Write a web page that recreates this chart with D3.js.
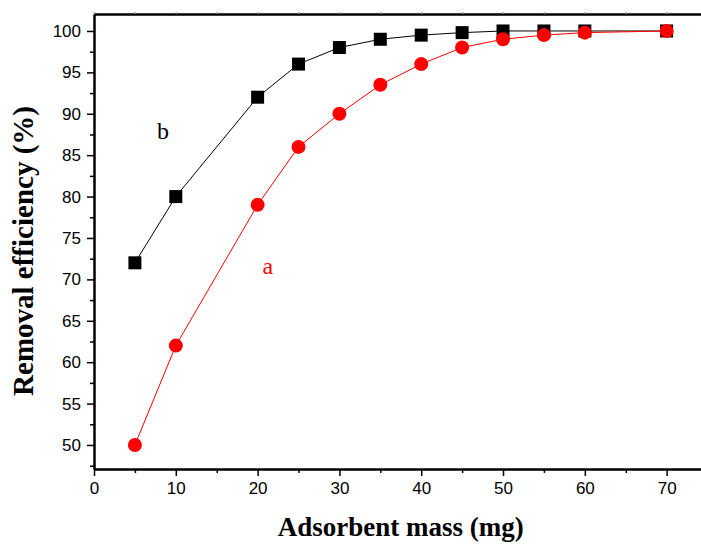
<!DOCTYPE html>
<meta charset="utf-8">
<script src="https://d3js.org/d3.v7.min.js"></script>
<style>
body { margin: 0; background: #fff; }
</style>
<body>
<div id="chart"></div>
<script>

// data
const mass = [5, 10, 20, 25, 30, 35, 40, 45, 50, 55, 60, 70];
const seriesB = [72, 80, 92, 96, 98, 99, 99.5, 99.8, 100, 100, 100, 100];
const seriesA = [50, 62, 79, 86, 90, 93.5, 96, 98, 99, 99.5, 99.8, 100];
const xTicks = [0, 10, 20, 30, 40, 50, 60, 70];
const yTicks = [50, 55, 60, 65, 70, 75, 80, 85, 90, 95, 100];

const W = 701, H = 546;
const margin = {top: 14, right: 0, bottom: 77, left: 94};
const width = W - margin.left - margin.right,
      height = H - margin.top - margin.bottom;

const svg = d3.select("#chart")
  .append("svg")
    .attr("width", W)
    .attr("height", H)
  .append("g")
    .attr("transform", `translate(${margin.left},${margin.top})`);

const x = d3.scaleLinear().domain([0, 74.2]).range([0, width]);
const y = d3.scaleLinear().domain([47.1, 102.05]).range([height, 0]);

// minor ticks
const xMinor = d3.range(5, 75, 10);
const yMinor = d3.range(47.5, 102, 5);

// bottom axis
svg.append("g")
  .attr("transform", `translate(0,${height})`)
  .call(d3.axisBottom(x).tickValues(xTicks).tickSize(7).tickPadding(6).tickSizeOuter(0));
svg.append("g")
  .attr("transform", `translate(0,${height})`)
  .call(d3.axisBottom(x).tickValues(xMinor).tickSize(4).tickFormat("").tickSizeOuter(0))
  .select(".domain").remove();

// left axis
svg.append("g")
  .call(d3.axisLeft(y).tickValues(yTicks).tickSize(7).tickPadding(6).tickSizeOuter(0));
svg.append("g")
  .call(d3.axisLeft(y).tickValues(yMinor).tickSize(4).tickFormat("").tickSizeOuter(0))
  .select(".domain").remove();

// top axis, ticks barely visible
svg.append("g")
  .call(d3.axisTop(x).tickValues(d3.range(0, 75, 5)).tickSize(2).tickFormat("").tickSizeOuter(0))
  .call(g => g.selectAll(".tick line").attr("stroke", "#999"));

svg.selectAll(".domain").attr("stroke-width", 2.5).attr("stroke", "#000");
svg.selectAll(".tick line").attr("stroke-width", 1.5);
svg.selectAll(".tick text")
  .attr("font-family", "Liberation Sans, Arial, sans-serif")
  .attr("font-size", 17)
  .attr("fill", "#000");

// lines
const line = d3.line()
  .x(d => x(d[0]))
  .y(d => y(d[1]));

const dataB = mass.map((m, i) => [m, seriesB[i]]);
const dataA = mass.map((m, i) => [m, seriesA[i]]);

svg.append("path")
  .datum(dataB)
  .attr("fill", "none")
  .attr("stroke", "#000")
  .attr("stroke-width", 1)
  .attr("d", line);

svg.append("path")
  .datum(dataA)
  .attr("fill", "none")
  .attr("stroke", "#ff0000")
  .attr("stroke-width", 1)
  .attr("d", line);

// square markers
const s = 13;
svg.selectAll(".sq")
  .data(dataB)
  .join("rect")
    .attr("class", "sq")
    .attr("x", d => x(d[0]) - s / 2)
    .attr("y", d => y(d[1]) - s / 2)
    .attr("width", s)
    .attr("height", s)
    .attr("fill", "#000");

// circle markers
svg.selectAll(".dot")
  .data(dataA)
  .join("circle")
    .attr("class", "dot")
    .attr("cx", d => x(d[0]))
    .attr("cy", d => y(d[1]))
    .attr("r", 7)
    .attr("fill", "#ff0000");

// series labels
svg.append("text")
  .attr("x", x(7.7))
  .attr("y", y(86.9))
  .attr("font-family", "Liberation Serif, Times New Roman, serif")
  .attr("font-size", 24)
  .attr("fill", "#000")
  .text("b");

svg.append("text")
  .attr("x", x(20.6))
  .attr("y", y(70.7))
  .attr("font-family", "Liberation Serif, Times New Roman, serif")
  .attr("font-size", 24)
  .attr("fill", "#ff0000")
  .text("a");

// axis titles
svg.append("text")
  .attr("x", x(37.5))
  .attr("y", height + 67)
  .attr("text-anchor", "middle")
  .attr("font-family", "Liberation Serif, Times New Roman, serif")
  .attr("font-weight", "bold")
  .attr("font-size", 27)
  .text("Adsorbent mass (mg)");

svg.append("text")
  .attr("transform", `translate(${-61},${251 - margin.top}) rotate(-90)`)
  .attr("text-anchor", "middle")
  .attr("font-family", "Liberation Serif, Times New Roman, serif")
  .attr("font-weight", "bold")
  .attr("font-size", 29)
  .text("Removal efficiency (%)");

</script>
</body>
